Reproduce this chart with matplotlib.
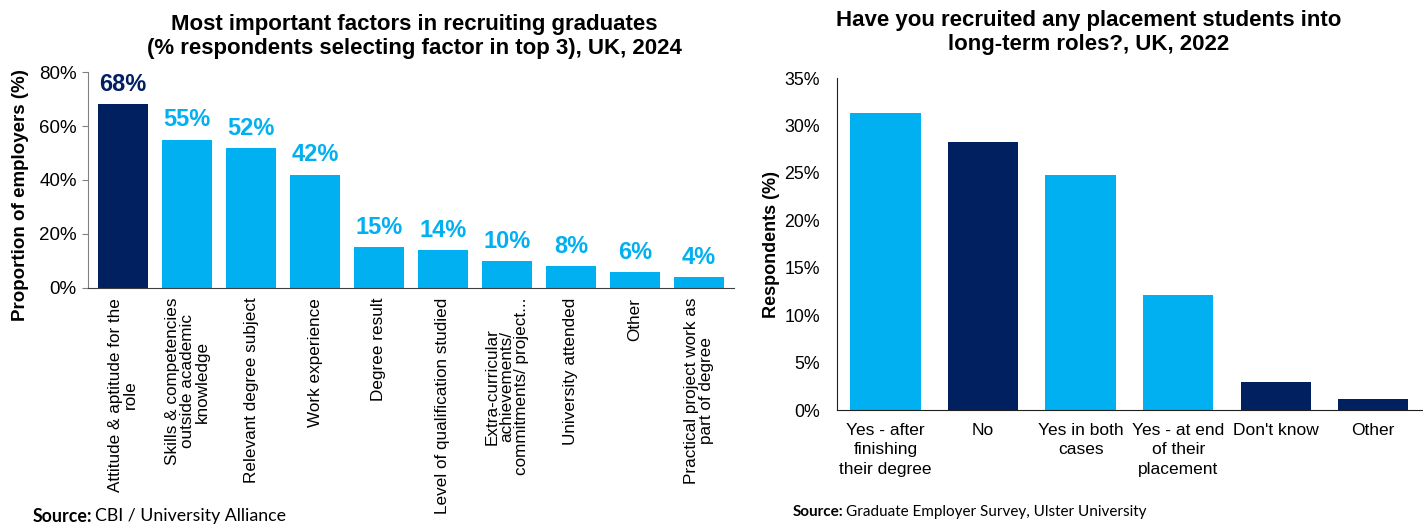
import matplotlib
matplotlib.use("Agg")
from matplotlib import pyplot as plt
import numpy as np

plt.rcParams['font.family'] = ['Liberation Sans', 'DejaVu Sans']

LIGHT = '#00B0F0'
DARK = '#002060'

# left panel: recruiting factors
factors = [
    'Attitude & aptitude for the\nrole',
    'Skills & competencies\noutside academic\nknowledge',
    'Relevant degree subject',
    'Work experience',
    'Degree result',
    'Level of qualification studied',
    'Extra-curricular\nachievements/\ncommitments/ project...',
    'University attended',
    'Other',
    'Practical project work as\npart of degree',
]
factor_pct = [68, 55, 52, 42, 15, 14, 10, 8, 6, 4]
factor_colors = [DARK] + [LIGHT] * 9
left_ticks = [0, 20, 40, 60, 80]

# right panel: placement students
answers = ['Yes - after\nfinishing\ntheir degree', 'No', 'Yes in both\ncases',
           'Yes - at end\nof their\nplacement', "Don't know", 'Other']
answer_pct = [31.3, 28.3, 24.8, 12.1, 3.0, 1.2]
answer_colors = [LIGHT, DARK, LIGHT, LIGHT, DARK, DARK]
right_ticks = [0, 5, 10, 15, 20, 25, 30, 35]

fig = plt.figure(figsize=(14.23, 5.26), dpi=100)

ax1 = fig.add_axes([0.0618, 0.4525, 0.4540, 0.4106])
x1 = np.arange(len(factors))
ax1.bar(x1, factor_pct, width=0.78, color=factor_colors)
for xi, v, c in zip(x1, factor_pct, factor_colors):
    ax1.text(xi, v + 3, f'{v}%', ha='center', va='bottom', fontsize=17,
             fontweight='bold', color=c)
ax1.set_xlim(-0.55, len(factors) - 0.45)
ax1.set_ylim(0, 80)
ax1.set_yticks(left_ticks)
ax1.set_yticklabels([f'{t}%' for t in left_ticks], fontsize=13.5)
ax1.set_xticks(x1)
ax1.set_xticklabels(factors, rotation=90, fontsize=12.3, ha='center', va='top',
                    multialignment='center', linespacing=1.0)
ax1.tick_params(axis='x', length=0, pad=7)
ax1.tick_params(axis='y', length=4, color='#808080', pad=4)
for s in ['top', 'right']:
    ax1.spines[s].set_visible(False)
ax1.spines['left'].set_color('#808080')
ax1.spines['bottom'].set_color('#404040')
ax1.set_ylabel('Proportion of employers (%)', fontsize=13.5, fontweight='bold')
ax1.yaxis.set_label_coords(-0.092, 0.43)
ax1.set_title('Most important factors in recruiting graduates\n'
              '(% respondents selecting factor in top 3), UK, 2024',
              fontsize=16, fontweight='bold', pad=13, x=0.505)

ax2 = fig.add_axes([0.588, 0.2205, 0.4113, 0.6312])
x2 = np.arange(len(answers))
ax2.bar(x2, answer_pct, width=0.72, color=answer_colors)
ax2.set_xlim(-0.5, len(answers) - 0.5)
ax2.set_ylim(0, 35)
ax2.set_yticks(right_ticks)
ax2.set_yticklabels([f'{t}%' for t in right_ticks], fontsize=12.75)
ax2.set_xticks(x2)
ax2.set_xticklabels(answers, fontsize=12.5, linespacing=1.4)
ax2.tick_params(axis='y', length=0, pad=12)
ax2.tick_params(axis='x', length=0, pad=9)
for s in ['top', 'right']:
    ax2.spines[s].set_visible(False)
ax2.spines['left'].set_color('#202020')
ax2.spines['bottom'].set_color('#202020')
ax2.set_ylabel('Respondents (%)', fontsize=13, fontweight='bold')
ax2.yaxis.set_label_coords(-0.097, 0.5)
ax2.set_title('Have you recruited any placement students into\n'
              'long-term roles?, UK, 2022',
              fontsize=16, fontweight='bold', pad=20, x=0.43)

# sources
fig.text(33 / 1423, 1 - 516 / 526, 'Source:', fontsize=12.8, family='Lato',
         fontweight='bold', va='center')
fig.text(95 / 1423, 1 - 516 / 526, 'CBI / University Alliance',
         fontsize=12.8, family='Lato', va='center')
fig.text(793 / 1423, 1 - 512 / 526, 'Source:', fontsize=11, family='Lato',
         fontweight='bold', va='center')
fig.text(846 / 1423, 1 - 512 / 526, 'Graduate Employer Survey, Ulster University',
         fontsize=11, family='Lato', va='center')

fig.savefig('out.png', dpi=100)
